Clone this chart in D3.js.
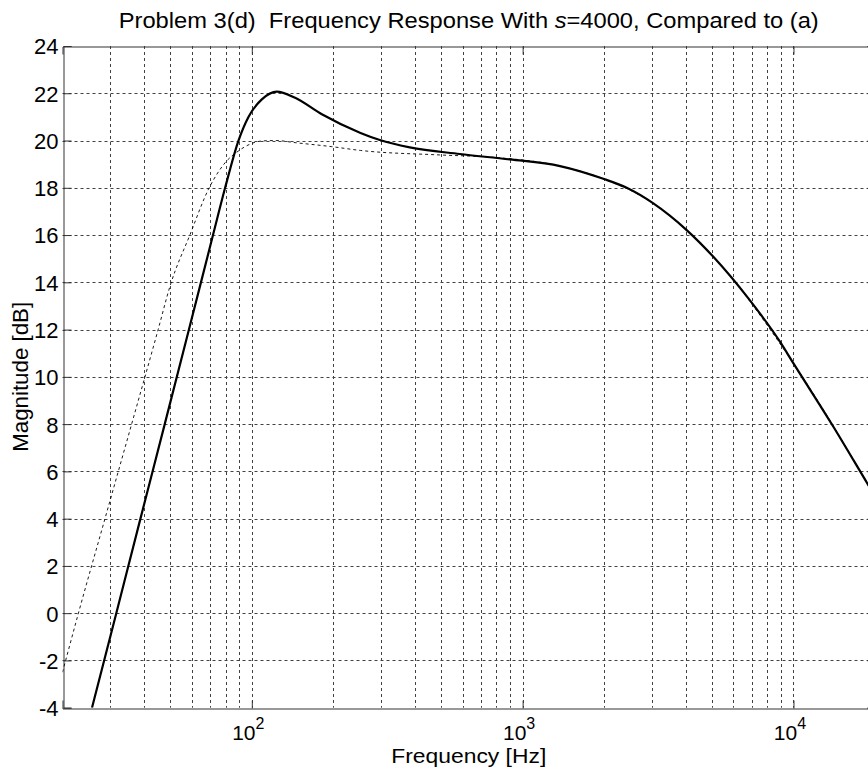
<!DOCTYPE html>
<html>
<head>
<meta charset="utf-8">
<script src="https://cdn.jsdelivr.net/npm/d3@7"></script>
<style>
  body { margin: 0; background: #fff; }
  svg { display: block; font-family: "Liberation Sans", Arial, sans-serif; }
</style>
</head>
<body>
<script>
// values
let freqD = [25.7, 31.6, 38.8, 47.7, 58.6, 71.9, 79.7, 89.3, 97.2,
             108.9, 123.7, 144.5, 181.4, 252, 297, 383, 586, 897, 1374, 1986, 2422, 3038,
             4034, 5060, 6816, 8913, 10000, 14040, 18740, 20000];
let magD  = [-4, 0, 4, 8, 12, 16, 18, 20, 21,
             21.74, 22.07, 21.81, 21.11, 20.32, 20.02, 19.71, 19.43, 19.2, 18.92, 18.38, 18.0, 17.34,
             16.21, 15.08, 13.32, 11.49, 10.57, 7.89, 5.49, 4.95];

let freqA = [20, 22.9, 28.7, 36.0, 45.1, 49.9, 59.2, 69.2, 79.7, 89.3,
             108.9, 123, 144.5, 197.5, 252, 494, 778, 1374, 1986, 3038, 5060, 10000, 20000];
let magA  = [-2.5, 0, 4, 8, 12, 13.84, 16.03, 17.94, 19.06, 19.56,
             19.98, 20.0, 19.91, 19.74, 19.58, 19.39, 19.29, 18.92, 18.38, 17.34, 15.08, 10.57, 4.95];

let yTicks = [-4, -2, 0, 2, 4, 6, 8, 10, 12, 14, 16, 18, 20, 22, 24];
let xMajor = [100, 1000, 10000];

let width = 868, height = 768;
let mLeft = 62.5, mRight = 875, mTop = 46, mBottom = 707.7;

let svg = d3.select("body").append("svg")
    .attr("width", width)
    .attr("height", height);

let x = d3.scaleLog().domain([20, 20000]).range([mLeft, mRight]);
let y = d3.scaleLinear().domain([-4, 24]).range([mBottom, mTop]);
let px = v => Math.round(v) + 0.5;

svg.append("defs").append("clipPath").attr("id", "plotClip")
  .append("rect")
    .attr("x", mLeft).attr("y", mTop)
    .attr("width", mRight - mLeft).attr("height", mBottom - mTop);

// grid
let grid = svg.append("g")
    .attr("stroke", "#222")
    .attr("stroke-width", 1)
    .attr("stroke-dasharray", "3,3")
    .attr("opacity", 0.85);

grid.selectAll(".vg")
    .data(x.ticks().filter(d => d > 20 && d < 20000))
    .enter().append("line")
    .attr("x1", d => px(x(d))).attr("x2", d => px(x(d)))
    .attr("y1", mTop).attr("y2", mBottom);

grid.selectAll(".hg")
    .data(yTicks.filter(d => d > -4 && d < 24))
    .enter().append("line")
    .attr("y1", d => px(y(d))).attr("y2", d => px(y(d)))
    .attr("x1", mLeft).attr("x2", mRight);

// axes with inward ticks
let yAxis = svg.append("g")
    .attr("transform", "translate(" + px(mLeft) + ",0)")
    .call(d3.axisLeft(y).tickValues(yTicks).tickSize(-8).tickPadding(5).tickFormat(d => String(d)));

let xAxis = svg.append("g")
    .attr("transform", "translate(0," + px(mBottom) + ")")
    .call(d3.axisBottom(x).tickValues(xMajor).tickSize(-8).tickPadding(10).tickFormat(""));

svg.append("g")
    .attr("transform", "translate(0," + px(mTop) + ")")
    .call(d3.axisTop(x).tickValues(xMajor).tickSize(-8).tickFormat(""));

svg.append("g")
    .attr("transform", "translate(" + px(mRight) + ",0)")
    .call(d3.axisRight(y).tickValues(yTicks).tickSize(-8).tickFormat(""));

svg.selectAll(".domain, .tick line")
    .attr("stroke", "#333")
    .attr("stroke-width", 1);

yAxis.selectAll("text")
    .attr("font-size", 22)
    .attr("fill", "#000")
    .attr("dy", "0.36em")
    .attr("font-family", "Liberation Sans, Arial, sans-serif");

// 10^n tick labels
xAxis.selectAll(".tick text").remove();
xAxis.selectAll(".tick").append("text")
    .attr("y", 31)
    .attr("text-anchor", "middle")
    .attr("fill", "#000")
    .attr("font-size", 21)
    .attr("font-family", "Liberation Sans, Arial, sans-serif")
    .each(function(d) {
        let t = d3.select(this);
        t.append("tspan").attr("dx", -4).text("10");
        t.append("tspan").attr("font-size", 16).attr("dy", -11).text(Math.round(Math.log10(d)));
    });

// curves
let line = d3.line()
    .x(d => x(d[0]))
    .y(d => y(d[1]))
    .curve(d3.curveMonotoneX);

let plot = svg.append("g").attr("clip-path", "url(#plotClip)");

plot.append("path")
    .datum(d3.zip(freqA, magA))
    .attr("fill", "none")
    .attr("stroke", "#000")
    .attr("stroke-width", 0.9)
    .attr("stroke-dasharray", "3,3")
    .attr("d", line);

plot.append("path")
    .datum(d3.zip(freqD, magD))
    .attr("fill", "none")
    .attr("stroke", "#000")
    .attr("stroke-width", 2.2)
    .attr("stroke-linejoin", "round")
    .attr("d", line);

// labels
let title = svg.append("text")
    .attr("x", (mLeft + mRight) / 2)
    .attr("y", 28)
    .attr("text-anchor", "middle")
    .attr("font-size", 22)
    .attr("textLength", 700)
    .attr("lengthAdjust", "spacingAndGlyphs");
title.append("tspan").text("Problem 3(d)\u00a0\u00a0Frequency Response With ");
title.append("tspan").attr("font-style", "italic").text("s");
title.append("tspan").text("=4000, Compared to (a)");

svg.append("text")
    .attr("x", (mLeft + mRight) / 2)
    .attr("y", 763)
    .attr("text-anchor", "middle")
    .attr("font-size", 21)
    .attr("textLength", 155)
    .attr("lengthAdjust", "spacingAndGlyphs")
    .text("Frequency [Hz]");

svg.append("text")
    .attr("transform", "translate(28," + ((mTop + mBottom) / 2) + ") rotate(-90)")
    .attr("text-anchor", "middle")
    .attr("font-size", 22)
    .attr("textLength", 150)
    .attr("lengthAdjust", "spacingAndGlyphs")
    .text("Magnitude [dB]");
</script>
</body>
</html>
